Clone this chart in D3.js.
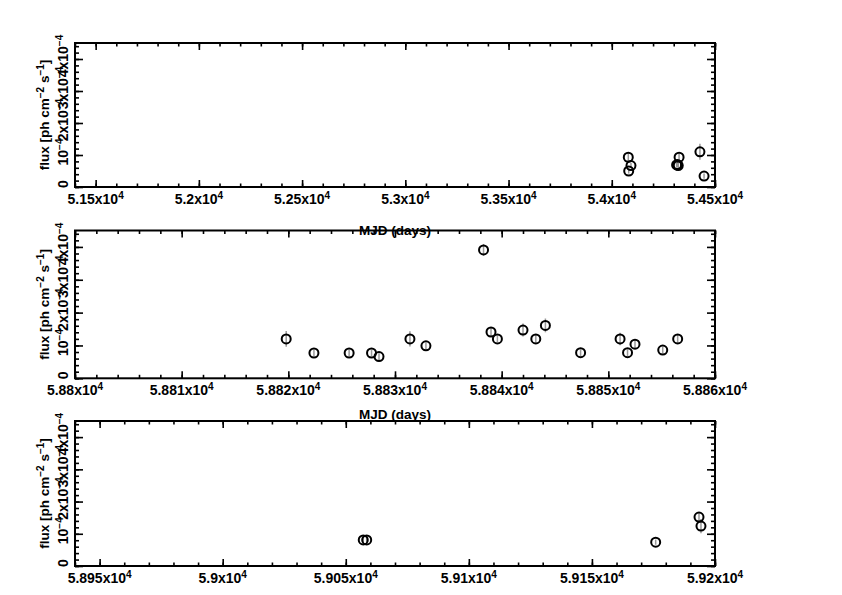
<!DOCTYPE html>
<html>
<head>
<meta charset="utf-8">
<script src="https://cdn.jsdelivr.net/npm/d3@7"></script>
<style>
body { margin: 0; background: #fff; }
svg text { font-family: "Liberation Sans", Arial, sans-serif; font-weight: bold; fill: #000; }
</style>
</head>
<body>
<svg id="chart" width="842" height="595"></svg>
<script>
// Panel 1 (early light curve)
let topMJD  = [54080, 54093, 54082, 54326, 54314, 54322, 54318, 54427, 54447];
let topFlux = [0.93e-4, 0.67e-4, 0.50e-4, 0.93e-4, 0.69e-4, 0.67e-4, 0.70e-4, 1.10e-4, 0.34e-4];
let topErr  = [0.12e-4, 0.08e-4, 0.08e-4, 0.10e-4, 0.08e-4, 0.08e-4, 0.08e-4, 0.25e-4, 0.08e-4];
let topTicks = [51500, 52000, 52500, 53000, 53500, 54000, 54500];

// Panel 2
let midMJD  = [58819.8, 58822.4, 58825.7, 58827.8, 58828.5, 58831.4, 58832.9, 58838.3, 58839.0, 58839.6,
               58842.0, 58843.2, 58844.1, 58847.4, 58851.1, 58851.8, 58852.5, 58855.1, 58856.5];
let midFlux = [1.20e-4, 0.77e-4, 0.77e-4, 0.77e-4, 0.66e-4, 1.20e-4, 0.99e-4, 3.91e-4, 1.41e-4, 1.20e-4,
               1.47e-4, 1.20e-4, 1.61e-4, 0.78e-4, 1.20e-4, 0.78e-4, 1.04e-4, 0.86e-4, 1.20e-4];
let midErr  = [0.24e-4, 0.10e-4, 0.10e-4, 0.10e-4, 0.10e-4, 0.23e-4, 0.10e-4, 0.18e-4, 0.12e-4, 0.10e-4,
               0.20e-4, 0.12e-4, 0.21e-4, 0.10e-4, 0.19e-4, 0.10e-4, 0.12e-4, 0.10e-4, 0.12e-4];
let midTicks = [58800, 58810, 58820, 58830, 58840, 58850, 58860];

// Panel 3
let botMJD  = [59057.1, 59058.5, 59175.9, 59193.5, 59194.3];
let botFlux = [0.81e-4, 0.81e-4, 0.74e-4, 1.52e-4, 1.24e-4];
let botErr  = [0.08e-4, 0.08e-4, 0.08e-4, 0.12e-4, 0.22e-4];
let botTicks = [58950, 59000, 59050, 59100, 59150, 59200];

let yTicks = [0, 1e-4, 2e-4, 3e-4, 4e-4];
let yMax = 4.5e-4;

let left = 75, right = 715;

// bottom panel's x title falls below the page, so it is left out
let panels = [
    {mjd: topMJD, flux: topFlux, err: topErr, ticks: topTicks, domain: [51400, 54500], minor: 100, y0: 43, y1: 187, titleY: 235},
    {mjd: midMJD, flux: midFlux, err: midErr, ticks: midTicks, domain: [58800, 58860], minor: 2, y0: 230.5, y1: 378.3, titleY: 419},
    {mjd: botMJD, flux: botFlux, err: botErr, ticks: botTicks, domain: [58940, 59200], minor: 10, y0: 421, y1: 566, titleY: null}
];

let svg = d3.select('#chart');

function xLabel(text, v) {
    let m = +(v / 1e4).toFixed(4);
    text.append('tspan').text(m + 'x10');
    text.append('tspan').attr('dy', -5.5).attr('font-size', 10).text('4');
}

function yLabel(text, v) {
    let k = Math.round(v / 1e-4);
    if (k === 0) { text.text('0'); return; }
    text.append('tspan').text(k === 1 ? '10' : k + 'x10');
    text.append('tspan').attr('dy', -5.5).attr('font-size', 10).text('\u22124');
}

panels.forEach(p => {
    let xScale = d3.scaleLinear().domain(p.domain).range([left, right]);
    let yScale = d3.scaleLinear().domain([0, yMax]).range([p.y1, p.y0]);

    let minorX = d3.range(Math.ceil(p.domain[0] / p.minor) * p.minor, p.domain[1] + 1e-9, p.minor);
    let minorY = d3.range(0, yMax, 2e-5);

    let g = svg.append('g');

    // minor + major ticks on all four sides
    let axes = [
        [d3.axisBottom(xScale).tickValues(minorX).tickSize(-3.5), 'translate(0,' + p.y1 + ')'],
        [d3.axisBottom(xScale).tickValues(p.ticks).tickSize(-7), 'translate(0,' + p.y1 + ')'],
        [d3.axisTop(xScale).tickValues(minorX).tickSize(-3.5), 'translate(0,' + p.y0 + ')'],
        [d3.axisTop(xScale).tickValues(p.ticks).tickSize(-7), 'translate(0,' + p.y0 + ')'],
        [d3.axisLeft(yScale).tickValues(minorY).tickSize(-4), 'translate(' + left + ',0)'],
        [d3.axisLeft(yScale).tickValues(yTicks).tickSize(-8), 'translate(' + left + ',0)'],
        [d3.axisRight(yScale).tickValues(minorY).tickSize(-4), 'translate(' + right + ',0)'],
        [d3.axisRight(yScale).tickValues(yTicks).tickSize(-8), 'translate(' + right + ',0)']
    ];
    axes.forEach(a => {
        let ax = g.append('g').attr('transform', a[1]).call(a[0].tickFormat('').tickSizeOuter(0));
        ax.select('.domain').remove();
        ax.selectAll('line').attr('stroke', '#000').attr('stroke-width', 1.6);
    });

    // box
    g.append('rect')
        .attr('x', left).attr('y', p.y0)
        .attr('width', right - left).attr('height', p.y1 - p.y0)
        .attr('fill', 'none').attr('stroke', '#000').attr('stroke-width', 2);

    // x tick labels
    g.selectAll('.xl')
        .data(p.ticks)
        .enter()
        .append('text')
        .attr('class', 'xl')
        .attr('x', d => xScale(d))
        .attr('y', p.y1 + 17)
        .attr('text-anchor', 'middle')
        .attr('font-size', 14)
        .each(function(d) { xLabel(d3.select(this), d); });

    // y tick labels (rotated)
    g.selectAll('.yl')
        .data(yTicks)
        .enter()
        .append('text')
        .attr('class', 'yl')
        .attr('transform', d => 'translate(68,' + (yScale(d) - 3) + ') rotate(-90)')
        .attr('text-anchor', 'middle')
        .attr('font-size', 14)
        .each(function(d) { yLabel(d3.select(this), d); });

    // titles
    if (p.titleY) {
        g.append('text')
            .attr('x', (left + right) / 2)
            .attr('y', p.titleY)
            .attr('text-anchor', 'middle')
            .attr('font-size', 13.5)
            .text('MJD (days)');
    }

    let yt = g.append('text')
        .attr('transform', 'translate(49,' + (p.y0 + p.y1) / 2 + ') rotate(-90)')
        .attr('text-anchor', 'middle')
        .attr('font-size', 13.5);
    yt.append('tspan').text('flux [ph cm');
    yt.append('tspan').attr('dy', -5.5).attr('font-size', 10).text('\u22122');
    yt.append('tspan').attr('dy', 5.5).text(' s');
    yt.append('tspan').attr('dy', -5.5).attr('font-size', 10).text('\u22121');
    yt.append('tspan').attr('dy', 5.5).text(']');

    // points with error bars
    let pts = p.mjd.map((m, i) => ({mjd: m, flux: p.flux[i], err: p.err[i]}));

    g.selectAll('.err')
        .data(pts)
        .enter()
        .append('line')
        .attr('x1', d => xScale(d.mjd))
        .attr('x2', d => xScale(d.mjd))
        .attr('y1', d => yScale(d.flux - d.err))
        .attr('y2', d => yScale(d.flux + d.err))
        .attr('stroke', '#999')
        .attr('stroke-width', 1.5);

    g.selectAll('.pt')
        .data(pts)
        .enter()
        .append('circle')
        .attr('cx', d => xScale(d.mjd))
        .attr('cy', d => yScale(d.flux))
        .attr('r', 4.5)
        .attr('fill', 'none')
        .attr('stroke', '#000')
        .attr('stroke-width', 2);
});
</script>
</body>
</html>
